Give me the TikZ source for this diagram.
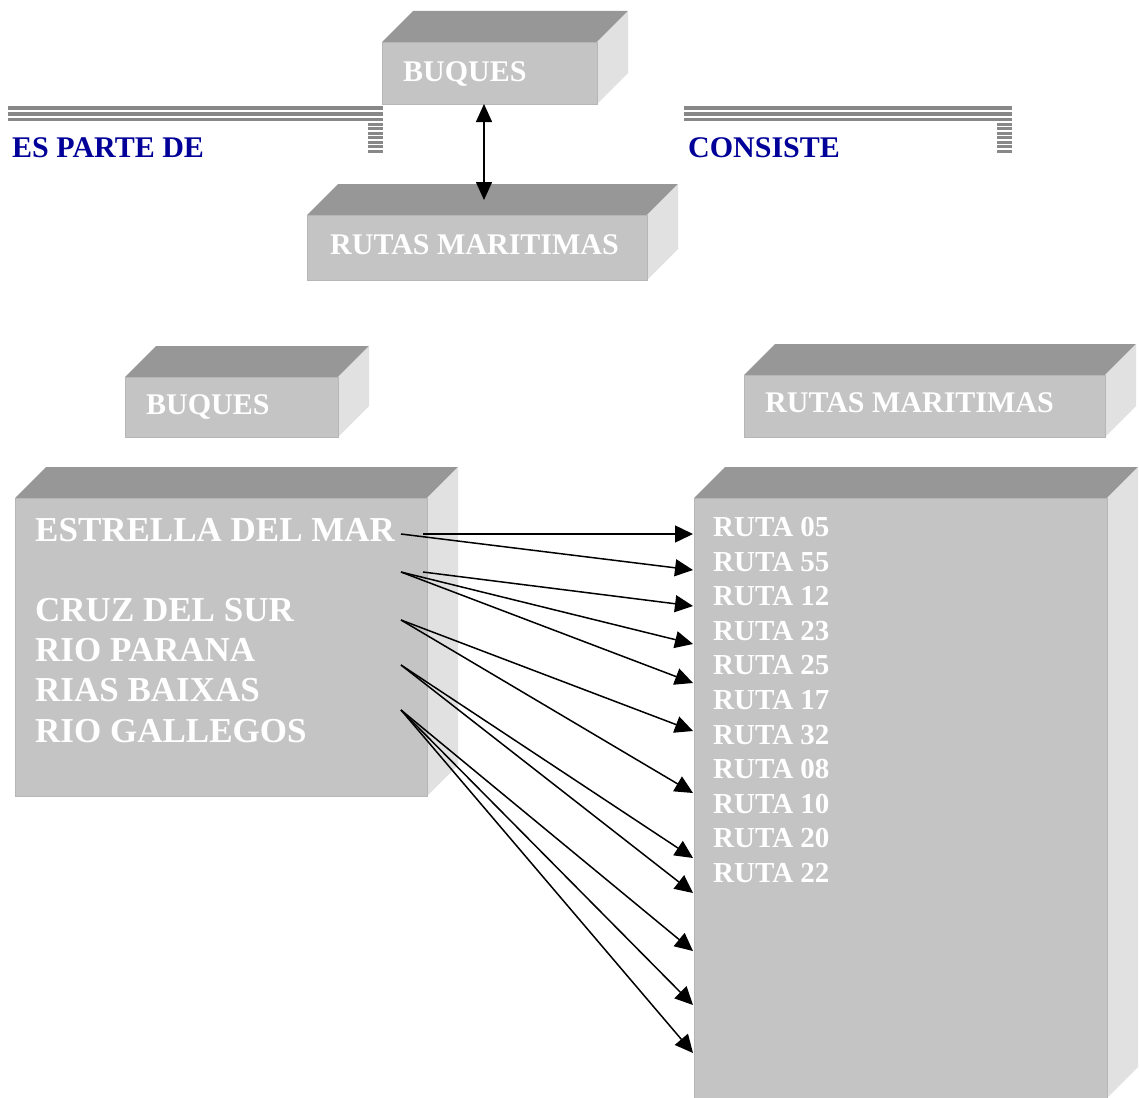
\documentclass[tikz,border=0pt]{standalone}
\usepackage{fontspec}
\setmainfont{Liberation Serif}
\usetikzlibrary{arrows.meta}

\definecolor{frente}{HTML}{C4C4C4}
\definecolor{techo}{HTML}{979797}
\definecolor{lado}{HTML}{E1E1E1}
\definecolor{borde}{HTML}{B6B6B6}
\definecolor{azul}{HTML}{000099}
\definecolor{barra}{HTML}{888888}

% caja 3D: nombre, x, y (esquina sup. izq.), ancho, alto
\newcommand{\caja}[5]{%
  \fill[techo] (#2,#3) -- ++(31,-31) -- ++(#4,0) -- ++(-31,31) -- cycle;
  \fill[lado] (#2+#4,#3) -- ++(31,-31) -- ++(0,#5) -- ++(-31,31) -- cycle;
  \node[cara,minimum width=#4pt,minimum height=#5pt] (#1) at (#2,#3) {};}

\begin{document}
\begin{tikzpicture}[x=1pt,y=-1pt,
    cara/.style={draw=borde,line width=1.2pt,fill=frente,inner sep=0pt,anchor=north west},
    rotulo/.style={anchor=west,inner sep=0pt,text depth=0pt,text=white,font=\fontsize{30}{30}\selectfont\bfseries},
    barco/.style={anchor=west,inner sep=0pt,text=white,font=\fontsize{35}{35}\selectfont\bfseries},
    ruta/.style={anchor=west,inner sep=0pt,text=white,font=\fontsize{29}{29}\selectfont\bfseries},
    enlace/.style={anchor=west,inner sep=0pt,text=azul,font=\fontsize{30}{30}\selectfont\bfseries},
    linea/.style={barra,line width=3.6pt},
    flecha/.style={line width=1.5pt,-{Triangle[length=18pt,width=17pt]}},
    doble/.style={line width=1.5pt,{Triangle[length=18pt,width=16pt]}-{Triangle[length=18pt,width=16pt]}}]
  \useasboundingbox (0,0) rectangle (1139,1097);

  % relacion de arriba
  \caja{bq1}{382}{42}{215}{62}
  \caja{rm1}{307}{215}{340}{65}
  \node[rotulo] (tbq1) at (403,72) {BUQUES};
  \node[rotulo] (trm1) at (330,245) {RUTAS MARITIMAS};
  \coordinate (arr) at (484,104);
  \coordinate (abj) at (484,200);
  \draw[doble] (arr) -- (abj);

  % barras
  \foreach \y in {108,114,119.5} {
    \draw[linea] (8,\y) -- (383,\y);
    \draw[linea] (684,\y) -- (1012,\y);
  }
  \foreach \y in {124,128.5,...,154} {
    \draw[barra,line width=3pt] (368,\y) -- (383,\y);
    \draw[barra,line width=3pt] (997,\y) -- (1012,\y);
  }
  \node[enlace] (parte) at (12,148) {ES PARTE DE};
  \node[enlace] (consiste) at (688,148) {CONSISTE};

  % cabeceras
  \caja{bq2}{125}{377}{213}{60}
  \caja{rm2}{744}{375}{361}{62}
  \node[rotulo] (tbq2) at (146,405) {BUQUES};
  \node[rotulo] (trm2) at (765,403) {RUTAS MARITIMAS};

  % listas
  \caja{lista}{15}{498}{412}{298}
  \caja{rutas}{694}{498}{413}{600}
  \node[barco] (b1) at (35,530) {ESTRELLA DEL MAR};
  \node[barco] (b2) at (35,610) {CRUZ DEL SUR};
  \node[barco] (b3) at (35,650) {RIO PARANA};
  \node[barco] (b4) at (35,690) {RIAS BAIXAS};
  \node[barco] (b5) at (35,731) {RIO GALLEGOS};
  \foreach \r [count=\i] in {05,55,12,23,25,17,32,08,10,20,22}
    \node[ruta] (r\r) at (713,{527+34.6*(\i-1)}) {RUTA \r};

  % extremos de las flechas
  \coordinate (s1a) at (423,534);
  \coordinate (s1b) at (401,534);
  \coordinate (s2a) at (423,572);
  \coordinate (s2b) at (401,572);
  \coordinate (s3) at (401,620);
  \coordinate (s4) at (401,665);
  \coordinate (s5) at (401,710);
  \foreach \y [count=\i] in {534,570,606,644,683,731,793,858,893,951,1005,1053}
    \coordinate (t\i) at (693,\y);

  \path[flecha]
    (s1a) edge (t1)
    (s1b) edge (t2)
    (s2a) edge (t3)
    (s2b) edge (t4)
    (s2b) edge (t5)
    (s3) edge (t6)
    (s3) edge (t7)
    (s4) edge (t8)
    (s4) edge (t9)
    (s5) edge (t10)
    (s5) edge (t11)
    (s5) edge (t12)
    ;
\end{tikzpicture}
\end{document}
